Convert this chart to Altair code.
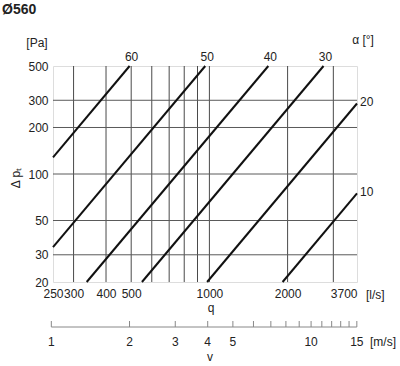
import altair as alt
import pandas as pd
import math

# ---- data ----
angles = [60, 50, 40, 30, 20, 10]
q_start = [250, 250, 337, 550, 980, 1913]
dp_start = [128, 33.6, 20, 20, 20, 20]
q_end = [493, 964, 1686, 2750, 3700, 3700]
dp_end = [500, 500, 500, 500, 286, 75]

x_labels = [250, 300, 400, 500, 1000, 2000, 3700]
y_labels = [20, 30, 50, 100, 200, 300, 500]
grid_q = [300, 400, 500, 600, 700, 800, 900, 1000, 2000, 3000]
grid_dp = [30, 50, 100, 200, 300]

v_ticks = list(range(1, 16))
v_labels = [1, 2, 3, 4, 5, 10, 15]
diameter_m = 0.56
area_ls = math.pi * (diameter_m / 2) ** 2 * 1000  # l/s per m/s

W, H = 304, 216
FONT = "Liberation Sans"
TXT = "#222222"

rows = []
for a, q0, p0, q1, p1 in zip(angles, q_start, dp_start, q_end, dp_end):
    rows.append({"angle": a, "q": q0, "dp": p0})
    rows.append({"angle": a, "q": q1, "dp": p1})
lines_df = pd.DataFrame(rows)

lab = pd.DataFrame({"angle": angles, "q": q_end, "dp": dp_end})
lab["text"] = lab["angle"].astype(str)
lab_top = lab[lab["dp"] >= 500]
lab_right = lab[lab["dp"] < 500]

xscale = alt.Scale(type="log", domain=[250, 3700], nice=False, zero=False)
yscale = alt.Scale(type="log", domain=[20, 500], nice=False, zero=False)

vgrid = alt.Chart(pd.DataFrame({"q": grid_q})).mark_rule(
    color="#4a4a4a", strokeWidth=1
).encode(x=alt.X("q:Q", scale=xscale))

hgrid = alt.Chart(pd.DataFrame({"dp": grid_dp})).mark_rule(
    color="#5a5a5a", strokeWidth=1
).encode(y=alt.Y("dp:Q", scale=yscale))

lines = alt.Chart(lines_df).mark_line(color="#111111", strokeWidth=2).encode(
    x=alt.X(
        "q:Q",
        scale=xscale,
        axis=alt.Axis(
            values=x_labels, format="d", labelOverlap=False, labelFlush=False,
            labelAlign={"condition": {"test": "datum.value >= 3700", "value": "right"},
                        "value": "center"},
            labelPadding=6, labelFontSize=12, labelColor=TXT, labelFont=FONT,
            ticks=False, domain=False, grid=False, title=None,
        ),
    ),
    y=alt.Y(
        "dp:Q",
        scale=yscale,
        axis=alt.Axis(
            values=y_labels, format="d", labelOverlap=False, labelFlush=False,
            labelPadding=5, labelFontSize=12, labelColor=TXT, labelFont=FONT,
            ticks=False, domain=False, grid=False, title=None,
        ),
    ),
    detail="angle:N",
)

top_text = alt.Chart(lab_top).mark_text(
    fontSize=12, font=FONT, color=TXT, align="center", baseline="middle", dx=2, dy=-9
).encode(x=alt.X("q:Q", scale=xscale), y=alt.Y("dp:Q", scale=yscale), text="text:N")

right_text = alt.Chart(lab_right).mark_text(
    fontSize=12, font=FONT, color=TXT, align="left", baseline="middle", dx=3, dy=-1
).encode(x=alt.X("q:Q", scale=xscale), y=alt.Y("dp:Q", scale=yscale), text="text:N")

# velocity axis (v mapped onto q through the duct area)
vdf = pd.DataFrame({"v": v_ticks})
vdf["q"] = vdf["v"] * area_ls
vlab = pd.DataFrame({"v": v_labels})
vlab["q"] = vlab["v"] * area_ls
vlab["text"] = vlab["v"].astype(str)
vbase = pd.DataFrame({"q0": [v_ticks[0] * area_ls], "q1": [v_ticks[-1] * area_ls]})

v_line = alt.Chart(vbase).mark_rule(color="#888888", strokeWidth=1).encode(
    x=alt.X("q0:Q", scale=xscale), x2="q1:Q", y=alt.value(H + 45)
)
v_ticks_m = alt.Chart(vdf).mark_rule(color="#888888", strokeWidth=1).encode(
    x=alt.X("q:Q", scale=xscale), y=alt.value(H + 39), y2=alt.value(H + 45)
)
v_text = alt.Chart(vlab).mark_text(
    fontSize=12, font=FONT, color=TXT, align="center", baseline="middle"
).encode(x=alt.X("q:Q", scale=xscale), y=alt.value(H + 60), text="text:N")

one = pd.DataFrame({"a": [0]})


def note(txt, x, y, align="left", size=12, weight="normal", angle=0):
    kw = dict(fontSize=size, font=FONT, color=TXT, align=align, baseline="middle",
              fontWeight=weight)
    if angle:
        kw["angle"] = angle
    return alt.Chart(one).mark_text(**kw).encode(
        x=alt.value(x), y=alt.value(y), text=alt.value(txt)
    )


notes = [
    note("Ø560", -51, -56, size=14, weight="bold"),
    note("[Pa]", -16, -23, align="center"),
    note("α [°]", 310, -26, align="center"),
    note("Δ pₜ", -37, 112, align="center", angle=270),
    note("[l/s]", 313, 229),
    note("q", 158, 242, align="center"),
    note("[m/s]", 317, H + 60),
    note("v", 157, 291, align="center"),
]

chart = alt.layer(
    vgrid, hgrid, lines, top_text, right_text, v_line, v_ticks_m, v_text, *notes
).properties(
    width=W,
    height=H,
    autosize=alt.AutoSizeParams(type="none"),
    padding={"left": 53, "top": 66, "right": 43, "bottom": 84},
).configure_view(
    stroke="#b5b5b5", strokeWidth=2
).configure(background="white")

chart.save("out.html", embed_options={"renderer": "svg", "actions": False})
